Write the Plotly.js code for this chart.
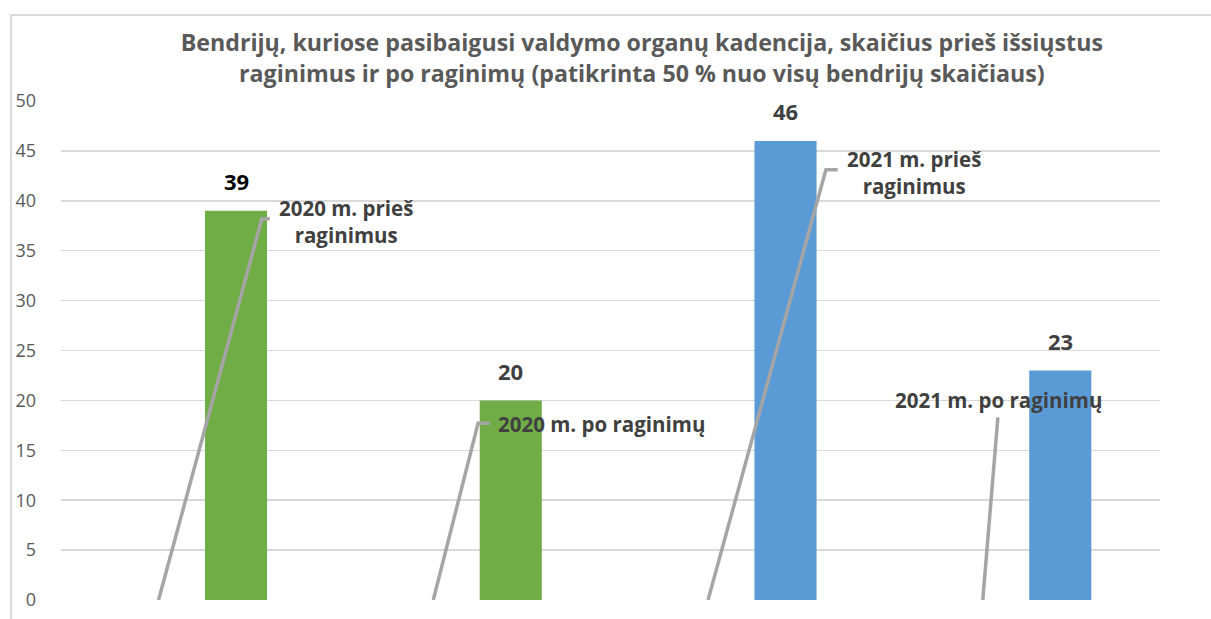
<!DOCTYPE html>
<html>
<head>
<meta charset="utf-8">
<script src="https://cdn.plot.ly/plotly-3.0.1.min.js"></script>
<style>
  html, body { margin: 0; padding: 0; background: #fff; }
  #wrap { position: relative; width: 1211px; height: 619px; overflow: hidden; }
  #frame { position: absolute; left: 10px; top: 14px; width: 1300px; height: 700px;
           border-left: 2px solid #D9D9D9; border-top: 2px solid #D9D9D9; box-sizing: border-box; }
  #chart { position: absolute; left: 0; top: 0; width: 1211px; height: 619px; }
</style>
</head>
<body>
<div id="wrap">
  <div id="frame"></div>
  <div id="chart"></div>
</div>
<script>
// ---- data ----
const categories = ['2020 m. prieš raginimus', '2020 m. po raginimų', '2021 m. prieš raginimus', '2021 m. po raginimų'];
const calloutLabels = ['2020 m. prieš<br>raginimus', '2020 m. po raginimų', '2021 m. prieš<br>raginimus', '2021 m. po raginimų'];
const values = [39, 20, 46, 23];
const yTickVals = [0, 5, 10, 15, 20, 25, 30, 35, 40, 45, 50];
const titleText = 'Bendrijų, kuriose pasibaigusi valdymo organų kadencija, skaičius prieš išsiųstus<br>raginimus ir po raginimų (patikrinta 50 % nuo visų bendrijų skaičiaus)';

// ---- styles / layout helpers ----
const barColors = ['#70AD47', '#70AD47', '#5B9BD5', '#5B9BD5'];
const valueLabelColors = ['#000000', '#404040', '#404040', '#404040'];
const FONT = '"Open Sans", sans-serif';
const barWidth = 0.226;
const barCenterOffset = 0.137;     // bar centre relative to category centre
const leaderBaseOffset = -0.145;   // where leader lines start (hidden zero series)
// callout geometry relative to category centre (x) and in value units (y)
const callouts = [
  { elbow: [0.231, 38.2], end: [0.26, 38.2], text: [0.537, 37.9] },
  { elbow: [0.018, 17.7], end: [0.061, 17.7], text: [0.466, 17.6] },
  { elbow: [0.284, 43.1], end: [0.327, 43.1], text: [0.603, 42.8] },
  { elbow: [-0.09, 18.3], end: null, text: [-0.088, 20.0] }
];

const xIdx = categories.map((_, i) => i);

const trace = {
  type: 'bar',
  x: xIdx,
  y: values,
  width: categories.map(() => barWidth),
  offset: categories.map(() => barCenterOffset - barWidth / 2),
  marker: { color: barColors },
  text: categories,
  textposition: 'none',
  hoverinfo: 'y+text'
};

const shapes = [];
const annotations = [];
callouts.forEach((c, i) => {
  let path = 'M ' + (i + leaderBaseOffset) + ' 0 L ' + (i + c.elbow[0]) + ' ' + c.elbow[1];
  if (c.end) path += ' L ' + (i + c.end[0]) + ' ' + c.end[1];
  shapes.push({ type: 'path', xref: 'x', yref: 'y', path: path,
    line: { color: '#A5A5A5', width: 3.5 }, layer: 'above' });
  annotations.push({ x: i + c.text[0], y: c.text[1], xref: 'x', yref: 'y',
    text: calloutLabels[i], showarrow: false, align: 'center',
    xanchor: 'center', yanchor: 'middle',
    font: { family: FONT, size: 20.5, color: '#404040', weight: 'bold' } });
});
values.forEach((v, i) => {
  annotations.push({ x: i + barCenterOffset, y: v, xref: 'x', yref: 'y',
    text: String(v), showarrow: false, xanchor: 'center', yanchor: 'middle', yshift: 29.5,
    font: { family: FONT, size: 22, color: valueLabelColors[i], weight: 'bold' } });
});

const layout = {
  width: 1211, height: 619,
  margin: { l: 61, r: 51, t: 101, b: 19, pad: 0 },
  paper_bgcolor: 'rgba(0,0,0,0)',
  plot_bgcolor: 'rgba(0,0,0,0)',
  showlegend: false,
  title: { text: titleText, x: 0.530, xref: 'container', xanchor: 'center',
    y: 0.917, yref: 'container', yanchor: 'middle',
    font: { family: FONT, size: 23.2, color: '#595959', weight: 'bold' } },
  xaxis: { range: [-0.5, 3.5], showgrid: false, zeroline: false, showline: false,
    showticklabels: false, ticks: '', fixedrange: true },
  yaxis: { range: [0, 50], tickvals: yTickVals, ticks: '', showline: false,
    gridcolor: '#D9D9D9', gridwidth: 1.5, zeroline: false,
    ticklabelstandoff: 24,
    tickfont: { family: FONT, size: 18, color: '#595959' }, fixedrange: true },
  shapes: shapes,
  annotations: annotations,
  font: { family: FONT }
};

Plotly.newPlot('chart', [trace], layout, { displayModeBar: false, staticPlot: true });
</script>
</body>
</html>
